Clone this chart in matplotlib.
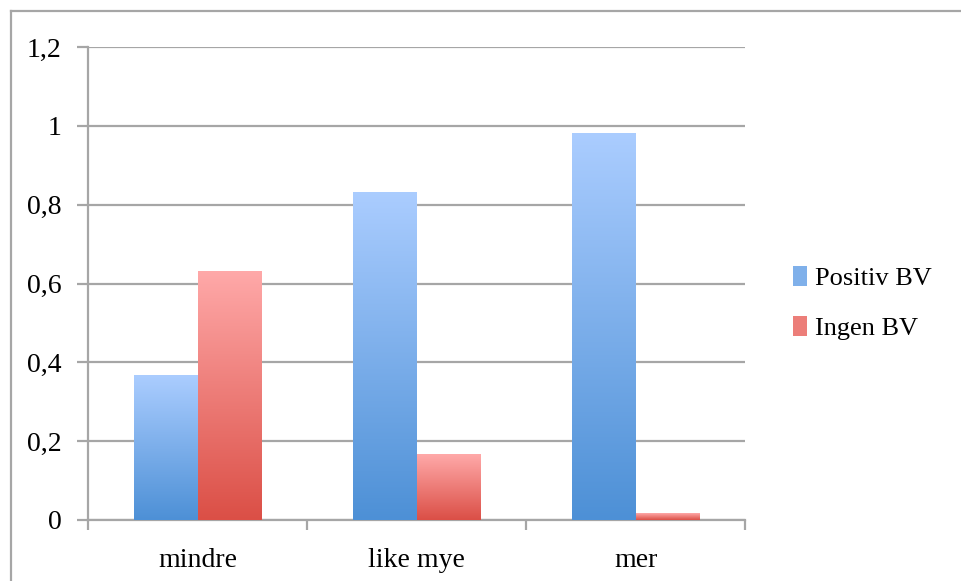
import numpy as np
import matplotlib
matplotlib.use("Agg")
import matplotlib.pyplot as plt
from matplotlib.colors import LinearSegmentedColormap
from matplotlib.patches import Patch
from matplotlib.lines import Line2D

categories = ["mindre", "like mye", "mer"]
positiv_bv = [0.367, 0.833, 0.983]
ingen_bv = [0.633, 0.167, 0.017]
series_names = ["Positiv BV", "Ingen BV"]
y_ticks = [0, 0.2, 0.4, 0.6, 0.8, 1.0, 1.2]
y_tick_labels = ["0", "0,2", "0,4", "0,6", "0,8", "1", "1,2"]

plt.rcParams["font.family"] = ["Liberation Serif", "DejaVu Serif"]

blue_top, blue_bottom = "#abcdff", "#4d90d6"
red_top, red_bottom = "#ffa9a9", "#db4f46"

fig = plt.figure(figsize=(9.61, 5.81), dpi=100)
ax = fig.add_axes([0.0916, 0.105, 0.6837, 0.814])

x = np.arange(len(categories))
w = 0.288
grid_c = "#a6a6a6"
fs = 20


def gradient_bars(xs, vals, top, bottom):
    bars = ax.bar(xs, vals, width=w, facecolor="none", edgecolor="none", zorder=3)
    cmap = LinearSegmentedColormap.from_list("g", [bottom, top])
    grad = np.linspace(0, 1, 256).reshape(-1, 1)
    for b in bars:
        x0, y0 = b.get_x(), b.get_y()
        x1, y1 = x0 + b.get_width(), y0 + b.get_height()
        im = ax.imshow(grad, cmap=cmap, origin="lower", aspect="auto",
                       extent=[x0, x1, y0, y1], zorder=3, interpolation="bilinear")
        im.set_clip_path(b)
    return bars


gradient_bars(x - w / 2, positiv_bv, blue_top, blue_bottom)
gradient_bars(x + w / 2, ingen_bv, red_top, red_bottom)

ax.set_xlim(-0.5, len(categories) - 0.5)
ax.set_ylim(0, 1.2)
ax.set_yticks(y_ticks)
ax.set_yticklabels(y_tick_labels)
ax.yaxis.grid(True, color=grid_c, linewidth=1.6, zorder=0)
ax.set_axisbelow(True)

ax.set_xticks(x)
ax.set_xticklabels(categories)
ax.tick_params(axis="x", length=0, pad=20, labelsize=fs)
ax.set_xticks(np.arange(len(categories) + 1) - 0.5, minor=True)
ax.tick_params(axis="x", which="minor", length=7, width=1.6, color=grid_c)
ax.tick_params(axis="y", length=8, width=1.6, color=grid_c, pad=11, labelsize=fs)

for s in ["top", "right"]:
    ax.spines[s].set_visible(False)
for s in ["left", "bottom"]:
    ax.spines[s].set_color(grid_c)
    ax.spines[s].set_linewidth(1.6)

handles = [Patch(facecolor="#7fb0ea", edgecolor="none"),
           Patch(facecolor="#ec7e79", edgecolor="none")]
fig.legend(handles, series_names, loc="center left", bbox_to_anchor=(0.800, 0.478),
           frameon=False, fontsize=19, handlelength=0.55, handleheight=0.75,
           handletextpad=0.3, labelspacing=1.0)

# outer chart frame
fig.add_artist(Line2D([10.5 / 961, 10.5 / 961], [0, 1 - 11 / 581], transform=fig.transFigure,
                      color=grid_c, linewidth=1.6))
fig.add_artist(Line2D([10.5 / 961, 1], [1 - 11 / 581, 1 - 11 / 581], transform=fig.transFigure,
                      color=grid_c, linewidth=1.6))

fig.savefig("out.png", dpi=100)
